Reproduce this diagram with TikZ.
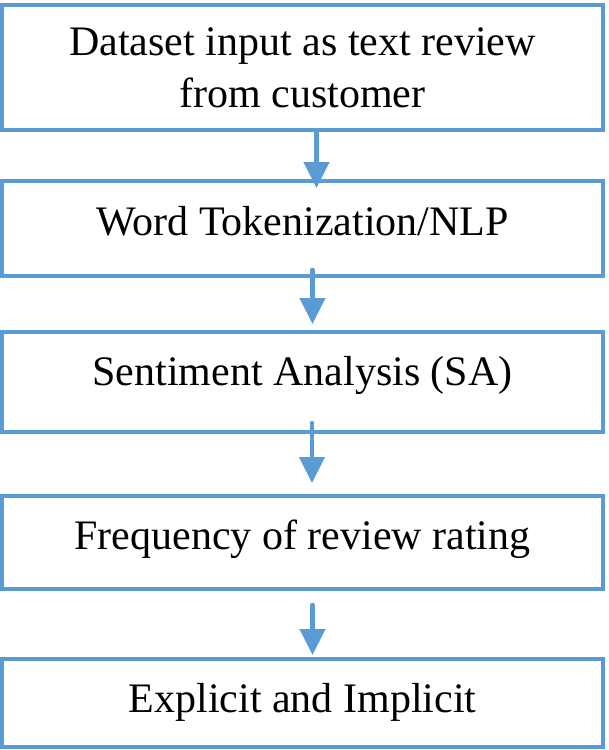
\documentclass[tikz,border=0pt]{standalone}
\usepackage{fontspec}
\setmainfont{Liberation Serif}
\usetikzlibrary{arrows.meta}
\definecolor{boxblue}{HTML}{5B9BD5}
\tikzset{
	stepbox/.style={draw=boxblue,line width=4pt,minimum width=601pt,inner sep=0pt,align=center},
	oneline/.style={text height=27pt,text depth=13pt},
	flow/.style={draw=boxblue,line width=4.5pt,line cap=round,-{Triangle[length=26pt,width=25pt]}}
}
\begin{document}
\begin{tikzpicture}[x=1pt,y=-1pt,font=\fontsize{42}{52}\selectfont]
		\useasboundingbox (0,0) rectangle (609,750);
		\node[stepbox,text depth=-7pt,minimum height=124.5pt] (input) at (302.5,67.25) {Dataset input as text review\\from customer};
		\node[stepbox,oneline,minimum height=94.5pt] (token) at (302.5,228.25) {Word Tokenization/NLP};
		\node[stepbox,oneline,text depth=21pt,minimum height=100pt] (senti) at (302.5,382) {Sentiment Analysis (SA)};
		\node[stepbox,oneline,minimum height=93pt] (freq) at (302.5,542.5) {Frequency of review rating};
		\node[stepbox,oneline,text depth=8pt,minimum height=88pt] (expl) at (302.5,703) {Explicit and Implicit};
		\draw[flow,shorten >=-9pt]
		([xshift=14pt]input.south)--([xshift=14pt]token.north)
		;
		\draw[flow,shorten <=-7.5pt,shorten >=6pt]
		([xshift=10pt]token.south)--([xshift=10pt]senti.north)
		;
		\draw[flow,shorten <=-11pt,shorten >=11pt]
		([xshift=9.5pt]senti.south)--([xshift=9.5pt]freq.north)
		;
		\draw[flow,shorten <=14pt,shorten >=2pt]
		([xshift=10pt]freq.south)--([xshift=10pt]expl.north)
		;
\end{tikzpicture}
\end{document}
